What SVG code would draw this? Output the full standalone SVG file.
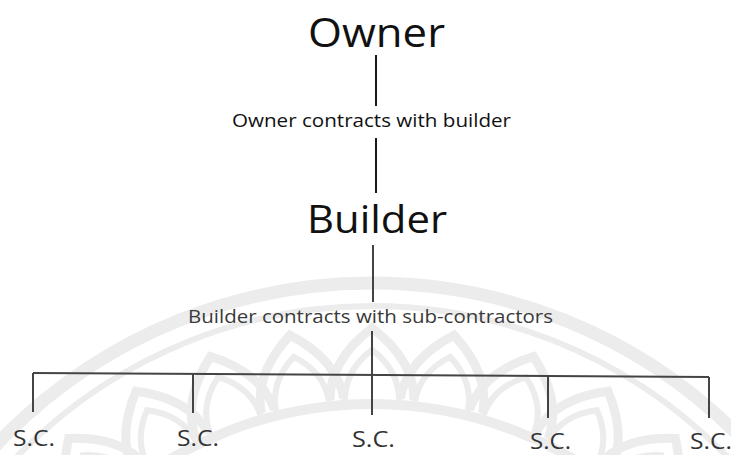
<svg xmlns="http://www.w3.org/2000/svg" xmlns:xlink="http://www.w3.org/1999/xlink" width="731" height="455" viewBox="0 0 731 455">
  <style>
    .title { font-family: "Open Sans", "Noto Sans", "Liberation Sans", sans-serif; fill: #111; }
    .note { font-family: "Open Sans", "Noto Sans", "Liberation Sans", sans-serif; font-size: 19px; }
    .sc { font-family: "Open Sans", "Noto Sans", "Liberation Sans", sans-serif; font-size: 22px; fill: #333; }
    .link { stroke: #1a1a1a; stroke-width: 2; fill: none; }
    .branch { stroke: #444; stroke-width: 2; fill: none; }
    .mark { stroke: #ececec; fill: none; }
  </style>
  <defs>
    <!-- one lotus petal, pointing up from the emblem centre -->
    <g id="petal">
      <path d="M -42,-400 Q -42,-440 0,-472 Q 42,-440 42,-400" stroke-width="9"/>
      <path d="M -27,-400 Q -27,-430 0,-450 Q 27,-430 27,-400" stroke-width="6"/>
    </g>
  </defs>

  <rect width="731" height="455" fill="#fff"/>

  <!-- faint emblem behind the chart -->
  <g id="emblem" class="mark">
    <circle cx="372" cy="800" r="517" stroke-width="13"/>
    <circle cx="372" cy="800" r="494" stroke-width="6"/>
    <circle cx="372" cy="800" r="396" stroke-width="10"/>
    <g transform="translate(372,800)">
      <use xlink:href="#petal" transform="rotate(-40)"/>
      <use xlink:href="#petal" transform="rotate(-30)"/>
      <use xlink:href="#petal" transform="rotate(-20)"/>
      <use xlink:href="#petal" transform="rotate(-10)"/>
      <use xlink:href="#petal"/>
      <use xlink:href="#petal" transform="rotate(10)"/>
      <use xlink:href="#petal" transform="rotate(20)"/>
      <use xlink:href="#petal" transform="rotate(30)"/>
      <use xlink:href="#petal" transform="rotate(40)"/>
    </g>
  </g>

  <!-- connectors -->
  <g id="connectors">
    <line class="link" x1="376" y1="55" x2="376" y2="106"/>
    <line class="link" x1="376" y1="138" x2="376" y2="193"/>
    <line class="branch" x1="373" y1="245" x2="373" y2="302"/>
    <line class="branch" x1="372" y1="331" x2="372" y2="415"/>
    <line class="branch" x1="33" y1="373" x2="709" y2="377"/>
    <line class="branch" x1="33" y1="373" x2="33" y2="412"/>
    <line class="branch" x1="193" y1="374" x2="193" y2="413"/>
    <line class="branch" x1="548" y1="376" x2="548" y2="418"/>
    <line class="branch" x1="709" y1="377" x2="709" y2="418"/>
  </g>

  <!-- nodes -->
  <g id="owner">
    <text class="title" x="308" y="47" font-size="40" textLength="137" lengthAdjust="spacingAndGlyphs">Owner</text>
  </g>
  <g id="owner-builder-contract">
    <text class="note" x="232" y="127" fill="#111" textLength="279" lengthAdjust="spacingAndGlyphs">Owner contracts with builder</text>
  </g>
  <g id="builder">
    <text class="title" x="307" y="233" font-size="39" textLength="140" lengthAdjust="spacingAndGlyphs">Builder</text>
  </g>
  <g id="builder-subcontract">
    <text class="note" x="188" y="323" fill="#3a3a3a" textLength="365" lengthAdjust="spacingAndGlyphs">Builder contracts with sub-contractors</text>
  </g>
  <g id="sc1"><text class="sc" x="13" y="446" textLength="42" lengthAdjust="spacingAndGlyphs">S.C.</text></g>
  <g id="sc2"><text class="sc" x="177" y="446" textLength="42" lengthAdjust="spacingAndGlyphs">S.C.</text></g>
  <g id="sc3"><text class="sc" x="352" y="447" textLength="43" lengthAdjust="spacingAndGlyphs">S.C.</text></g>
  <g id="sc4"><text class="sc" x="530" y="449" textLength="41" lengthAdjust="spacingAndGlyphs">S.C.</text></g>
  <g id="sc5"><text class="sc" x="690" y="449" textLength="42" lengthAdjust="spacingAndGlyphs">S.C.</text></g>
</svg>
